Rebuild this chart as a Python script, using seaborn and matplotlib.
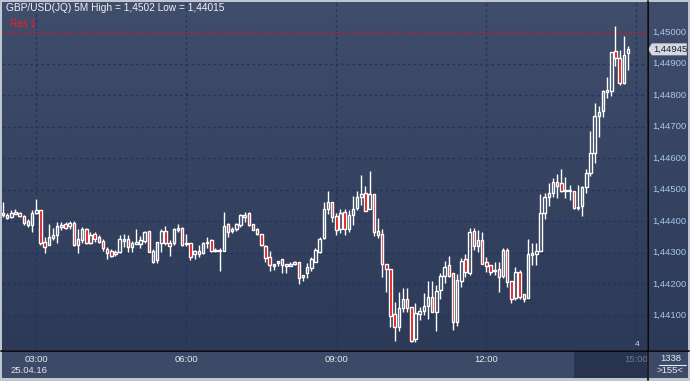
import numpy as np
import pandas as pd
import matplotlib
matplotlib.use("Agg")
import matplotlib.pyplot as plt
import seaborn as sns
from matplotlib.colors import LinearSegmentedColormap
from matplotlib.patches import Polygon, Rectangle
from matplotlib.lines import Line2D

# 5 minute GBP/USD candles, 25.04.16 from 02:20
title_text = "GBP/USD(JQ) 5M High = 1,4502 Low = 1,44015"
start_time = "2016-04-25 02:20"
date_label = "25.04.16"

open_ = [1.44419, 1.44419, 1.44413, 1.44422, 1.44425, 1.44416, 1.44387, 1.44387, 1.44425, 1.44435,
         1.44333, 1.44324, 1.44355, 1.44355, 1.44381, 1.44390, 1.44384, 1.44394, 1.44324, 1.44340,
         1.44375, 1.44330, 1.44359, 1.44349, 1.44336, 1.44311, 1.44305, 1.44295, 1.44302, 1.44336,
         1.44343, 1.44317, 1.44327, 1.44327, 1.44336, 1.44368, 1.44270, 1.44276, 1.44330, 1.44368,
         1.44330, 1.44330, 1.44371, 1.44378, 1.44327, 1.44330, 1.44295, 1.44305, 1.44298, 1.44330,
         1.44340, 1.44305, 1.44305, 1.44305, 1.44390, 1.44375, 1.44375, 1.44387, 1.44413, 1.44425,
         1.44390, 1.44375, 1.44359, 1.44321, 1.44286, 1.44257, 1.44267, 1.44279, 1.44257, 1.44257,
         1.44270, 1.44270, 1.44222, 1.44235, 1.44251, 1.44270, 1.44302, 1.44346, 1.44438, 1.44460,
         1.44416, 1.44375, 1.44429, 1.44375, 1.44419, 1.44441, 1.44476, 1.44489, 1.44438, 1.44486,
         1.44368, 1.44359, 1.44263, 1.44248, 1.44104, 1.44063, 1.44124, 1.44152, 1.44127, 1.44025,
         1.44104, 1.44114, 1.44130, 1.44159, 1.44110, 1.44181, 1.44225, 1.44260, 1.44235, 1.44079,
         1.44209, 1.44279, 1.44235, 1.44368, 1.44321, 1.44340, 1.44270, 1.44260, 1.44241, 1.44248,
         1.44225, 1.44308, 1.44209, 1.44155, 1.44238, 1.44168, 1.44155, 1.44292, 1.44295, 1.44305,
         1.44425, 1.44476, 1.44489, 1.44524, 1.44521, 1.44495, 1.44495, 1.44495, 1.44441, 1.44448,
         1.44508, 1.44552, 1.44616, 1.44733, 1.44749, 1.44810, 1.44813, 1.44940, 1.44917, 1.44838,
         1.44933]
high = [1.44460, 1.44425, 1.44435, 1.44438, 1.44429, 1.44419, 1.44406, 1.44435, 1.44470, 1.44435,
        1.44349, 1.44390, 1.44378, 1.44397, 1.44397, 1.44397, 1.44400, 1.44400, 1.44375, 1.44381,
        1.44378, 1.44365, 1.44365, 1.44355, 1.44343, 1.44317, 1.44311, 1.44308, 1.44355, 1.44359,
        1.44355, 1.44336, 1.44375, 1.44352, 1.44368, 1.44368, 1.44311, 1.44333, 1.44375, 1.44384,
        1.44340, 1.44378, 1.44390, 1.44381, 1.44359, 1.44330, 1.44308, 1.44324, 1.44333, 1.44349,
        1.44343, 1.44314, 1.44314, 1.44429, 1.44394, 1.44381, 1.44394, 1.44422, 1.44429, 1.44429,
        1.44390, 1.44378, 1.44359, 1.44324, 1.44305, 1.44263, 1.44273, 1.44279, 1.44263, 1.44270,
        1.44273, 1.44270, 1.44229, 1.44267, 1.44286, 1.44314, 1.44349, 1.44460, 1.44495, 1.44460,
        1.44425, 1.44438, 1.44438, 1.44435, 1.44479, 1.44495, 1.44546, 1.44511, 1.44559, 1.44486,
        1.44409, 1.44375, 1.44263, 1.44248, 1.44143, 1.44175, 1.44187, 1.44187, 1.44127, 1.44140,
        1.44127, 1.44171, 1.44209, 1.44209, 1.44197, 1.44235, 1.44273, 1.44289, 1.44235, 1.44232,
        1.44283, 1.44295, 1.44378, 1.44378, 1.44371, 1.44365, 1.44286, 1.44260, 1.44270, 1.44270,
        1.44314, 1.44314, 1.44209, 1.44254, 1.44244, 1.44168, 1.44343, 1.44330, 1.44330, 1.44486,
        1.44489, 1.44521, 1.44536, 1.44549, 1.44565, 1.44540, 1.44514, 1.44495, 1.44514, 1.44511,
        1.44565, 1.44686, 1.44775, 1.44765, 1.44816, 1.44857, 1.44937, 1.45020, 1.44943, 1.44987,
        1.44956]
low = [1.44413, 1.44406, 1.44409, 1.44422, 1.44413, 1.44387, 1.44381, 1.44365, 1.44422, 1.44324,
       1.44298, 1.44324, 1.44340, 1.44330, 1.44371, 1.44375, 1.44375, 1.44321, 1.44298, 1.44330,
       1.44327, 1.44327, 1.44333, 1.44330, 1.44305, 1.44279, 1.44286, 1.44289, 1.44298, 1.44317,
       1.44302, 1.44302, 1.44327, 1.44314, 1.44330, 1.44302, 1.44267, 1.44267, 1.44302, 1.44324,
       1.44289, 1.44324, 1.44365, 1.44321, 1.44321, 1.44276, 1.44279, 1.44286, 1.44295, 1.44314,
       1.44302, 1.44302, 1.44241, 1.44305, 1.44349, 1.44362, 1.44368, 1.44381, 1.44397, 1.44384,
       1.44371, 1.44355, 1.44321, 1.44270, 1.44241, 1.44244, 1.44257, 1.44235, 1.44235, 1.44257,
       1.44260, 1.44200, 1.44209, 1.44219, 1.44241, 1.44270, 1.44298, 1.44343, 1.44422, 1.44397,
       1.44355, 1.44362, 1.44355, 1.44365, 1.44387, 1.44435, 1.44451, 1.44432, 1.44438, 1.44352,
       1.44346, 1.44222, 1.44175, 1.44063, 1.44019, 1.44051, 1.44110, 1.44110, 1.44015, 1.44015,
       1.44086, 1.44101, 1.44089, 1.44110, 1.44051, 1.44152, 1.44203, 1.44222, 1.44054, 1.44067,
       1.44190, 1.44222, 1.44229, 1.44308, 1.44302, 1.44263, 1.44238, 1.44229, 1.44229, 1.44175,
       1.44219, 1.44190, 1.44140, 1.44149, 1.44152, 1.44143, 1.44155, 1.44260, 1.44260, 1.44305,
       1.44406, 1.44448, 1.44476, 1.44473, 1.44492, 1.44473, 1.44467, 1.44438, 1.44435, 1.44416,
       1.44489, 1.44543, 1.44584, 1.44667, 1.44730, 1.44790, 1.44797, 1.44892, 1.44832, 1.44835,
       1.44879]
close = [1.44425, 1.44409, 1.44425, 1.44429, 1.44416, 1.44394, 1.44400, 1.44425, 1.44435, 1.44330,
         1.44317, 1.44349, 1.44346, 1.44384, 1.44387, 1.44378, 1.44394, 1.44324, 1.44343, 1.44375,
         1.44330, 1.44355, 1.44343, 1.44333, 1.44314, 1.44298, 1.44289, 1.44302, 1.44343, 1.44343,
         1.44317, 1.44330, 1.44333, 1.44340, 1.44365, 1.44302, 1.44305, 1.44333, 1.44368, 1.44330,
         1.44321, 1.44375, 1.44378, 1.44324, 1.44330, 1.44286, 1.44305, 1.44295, 1.44330, 1.44333,
         1.44305, 1.44308, 1.44308, 1.44384, 1.44365, 1.44368, 1.44390, 1.44419, 1.44419, 1.44387,
         1.44371, 1.44359, 1.44324, 1.44283, 1.44260, 1.44263, 1.44273, 1.44260, 1.44263, 1.44263,
         1.44263, 1.44219, 1.44229, 1.44254, 1.44279, 1.44308, 1.44343, 1.44438, 1.44460, 1.44413,
         1.44371, 1.44425, 1.44375, 1.44419, 1.44438, 1.44476, 1.44486, 1.44432, 1.44486, 1.44365,
         1.44355, 1.44263, 1.44248, 1.44098, 1.44063, 1.44124, 1.44152, 1.44124, 1.44019, 1.44107,
         1.44114, 1.44130, 1.44159, 1.44110, 1.44178, 1.44225, 1.44254, 1.44225, 1.44079, 1.44213,
         1.44273, 1.44238, 1.44365, 1.44321, 1.44340, 1.44263, 1.44257, 1.44238, 1.44244, 1.44222,
         1.44308, 1.44206, 1.44152, 1.44238, 1.44159, 1.44152, 1.44295, 1.44298, 1.44305, 1.44425,
         1.44476, 1.44489, 1.44524, 1.44511, 1.44495, 1.44498, 1.44498, 1.44441, 1.44444, 1.44508,
         1.44552, 1.44616, 1.44733, 1.44746, 1.44813, 1.44816, 1.44937, 1.44917, 1.44838, 1.44927,
         1.44945]

price_ticks = [1.441, 1.442, 1.443, 1.444, 1.445, 1.446, 1.447, 1.448, 1.449, 1.450]
time_labels = ["03:00", "06:00", "09:00", "12:00", "15:00"]
res_level = 1.4500
res_label = "Res 1"
last_price = 1.44945
bar_count_text = "1338"
zoom_text = ">155<"

sns.set_style("dark")
plt.rcParams['font.family'] = ['Liberation Sans', 'DejaVu Sans']

df = pd.DataFrame({"open": open_, "high": high, "low": low, "close": close},
                  index=pd.date_range(start_time, periods=len(open_), freq="5min"))
df["x"] = np.arange(len(df))
start = df.index[0]
tick_x = [(pd.Timestamp("2016-04-25 " + t) - start) / pd.Timedelta("5min") for t in time_labels]

W, H = 690, 381
def box(l, t, r, b):
    return [l / W, 1 - b / H, (r - l) / W, (b - t) / H]

fig = plt.figure(figsize=(6.9, 3.81), dpi=100, facecolor="#bfc6d2")

px_bar = 150 / 36.0
xlim = (-1 / px_bar, (647 - 3) / px_bar)
ylim = (1.45 - (350 - 32) / 31500, 1.45 + (32 - 2) / 31500)

grad = LinearSegmentedColormap.from_list("bg", ["#414e6b", "#2c3957"])
gvals = np.linspace(0, 1, 256).reshape(-1, 1)

# main chart
ax = fig.add_axes(box(2, 2, 647, 350))
ax.set_zorder(3)
ax.imshow(gvals, cmap=grad, aspect="auto", extent=[xlim[0], xlim[1], ylim[0], ylim[1]], zorder=0)
ax.set_xlim(xlim)
ax.set_ylim(ylim)
ax.set_xticks([])
ax.set_yticks([])
for s in ax.spines.values():
    s.set_visible(False)

for p in price_ticks:
    if p != res_level:
        ax.axhline(p, color="#1d3566", lw=1, ls=(0, (2, 2)), zorder=1)
for tx in tick_x:
    ax.axvline(tx, color="#1d3566", lw=1, ls=(0, (2, 2)), zorder=1)
ax.axhline(res_level, color="#d41414", lw=1, ls=(0, (2, 2)), zorder=1)

up = df["close"] >= df["open"]
body_top = df[["open", "close"]].max(axis=1)
body_bot = df[["open", "close"]].min(axis=1)
ax.vlines(df["x"], body_top, df["high"], color="white", lw=1, zorder=2)
ax.vlines(df["x"], df["low"], body_bot, color="white", lw=1, zorder=2)
heights = np.maximum(body_top - body_bot, 0.00004)
ax.bar(df["x"][up], heights[up], bottom=body_bot[up], width=0.62,
       facecolor="none", edgecolor="white", linewidth=1, zorder=3)
ax.bar(df["x"][~up], heights[~up], bottom=body_bot[~up], width=0.62,
       facecolor="#e30000", edgecolor="white", linewidth=1, zorder=3)

ax.text(4 / 645, 1 - 6 / 348, title_text, transform=ax.transAxes, color="#eef1f6",
        fontsize=7.3, va="center", ha="left", zorder=5)
ax.text(8 / 645, 1 - 22 / 348, res_label, transform=ax.transAxes, color="#ff1a1a",
        fontsize=7.2, va="center", ha="left", zorder=5)
ax.text(1 - 10 / 645, 1 - 342 / 348, "4", transform=ax.transAxes, color="#d0d8e8",
        fontsize=6, va="center", ha="center", zorder=5)

# right price scale
ax_r = fig.add_axes(box(648, 2, 688, 350))
ax_r.imshow(gvals, cmap=grad, aspect="auto", extent=[0, 1, ylim[0], ylim[1]], zorder=0)
ax_r.set_xlim(0, 1)
ax_r.set_ylim(ylim)
ax_r.set_xticks([])
ax_r.set_yticks([])
for s in ax_r.spines.values():
    s.set_visible(False)
for p in price_ticks:
    ax_r.text(0.1, p, f"{p:.5f}".replace(".", ","), color="#a9c6ec", fontsize=6.8,
              va="center", ha="left")
tag_y0 = last_price - 6 / 31500
tag_y1 = last_price + 6 / 31500
ax_r.add_patch(Polygon([[0.0, last_price], [0.1, tag_y1], [0.97, tag_y1], [0.97, tag_y0], [0.1, tag_y0]],
                       closed=True, facecolor="#d5d9df", edgecolor="none", zorder=4))
ax_r.text(0.13, last_price, f"{last_price:.5f}".replace(".", ","), color="#1b2234",
          fontsize=6.8, va="center", ha="left", zorder=5)

# time scale
ax_b = fig.add_axes(box(2, 351, 647, 378))
ax_b.set_facecolor("#3d4a67")
ax_b.set_xlim(xlim)
ax_b.set_ylim(0, 1)
ax_b.set_xticks([])
ax_b.set_yticks([])
for s in ax_b.spines.values():
    s.set_visible(False)
ax_b.add_patch(Rectangle(((574 - 2) / 645, 0), 1, 1, transform=ax_b.transAxes,
                         facecolor="#28334f", edgecolor="none"))
for tx, lab in zip(tick_x, time_labels):
    col = "#6c7a94" if lab == "15:00" else "#e4e8ef"
    ax_b.text(tx, 0.67, lab, color=col, fontsize=6.8, ha="center", va="center")
ax_b.text(8 / 645, 0.26, date_label, transform=ax_b.transAxes, color="#e4e8ef",
          fontsize=6.8, ha="left", va="center")

ax_c = fig.add_axes(box(649, 351, 688, 378))
ax_c.set_facecolor("#3d4a67")
ax_c.set_xticks([])
ax_c.set_yticks([])
for s in ax_c.spines.values():
    s.set_visible(False)
ax_c.text(0.55, 0.72, bar_count_text, transform=ax_c.transAxes, color="#e4e8ef",
          fontsize=6.8, ha="center", va="center")
ax_c.plot([0.25, 0.95], [0.5, 0.5], transform=ax_c.transAxes, color="#e4e8ef", lw=0.8)
ax_c.text(0.55, 0.26, zoom_text, transform=ax_c.transAxes, color="#e4e8ef",
          fontsize=6.8, ha="center", va="center")

# separators
fig.add_artist(Line2D([647.5 / W, 647.5 / W], [1 / H, 1 - 1 / H], color="black", lw=1.2))
fig.add_artist(Line2D([1 / W, 1 - 1 / W], [1 - 350.5 / H, 1 - 350.5 / H], color="black", lw=1.2))

fig.savefig("out.png", dpi=100, facecolor=fig.get_facecolor())
